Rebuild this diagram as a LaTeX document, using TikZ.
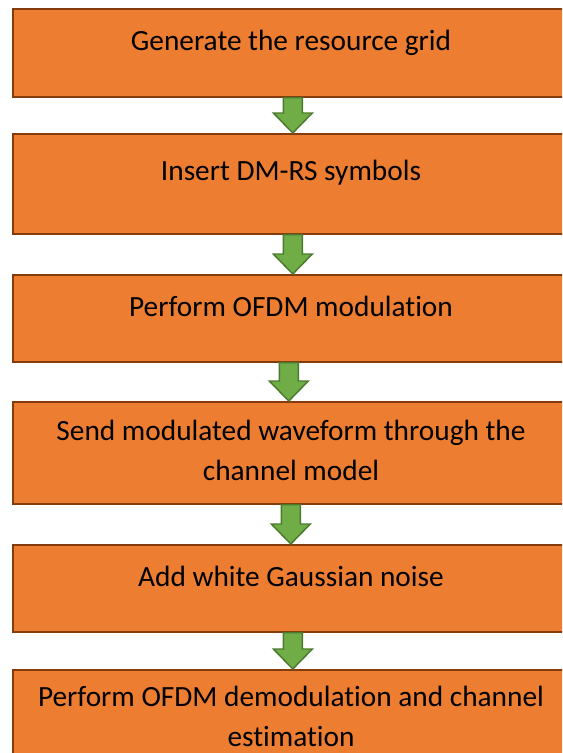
\documentclass[tikz,border=0pt]{standalone}
\usepackage{fontspec}
\setmainfont[Ligatures=NoCommon]{Carlito}
\usetikzlibrary{calc}
\definecolor{boxfill}{HTML}{ED7D31}
\definecolor{boxline}{HTML}{843C0C}
\definecolor{arrfill}{HTML}{70AD47}
\definecolor{arrline}{HTML}{4B7A2E}
\tikzset{
  stepbox/.style={draw=boxline, fill=boxfill, line width=1.2pt, rectangle, inner sep=0pt, anchor=north west, minimum width=558*0.75pt},
  steptext/.style={font=\fontsize{22}{30}\selectfont, text=black, align=center, anchor=base, inner sep=0pt},
  garrow/.style={draw=arrline, fill=arrfill, line width=1.1pt, line join=miter}
}
\newcommand\blockarrow[3]{% from, to, x offset
  \draw[garrow] ($(#1.south)+(#3-9.5,0)$) -- ($(#2.north)+(#3-9.5,-20)$) -- ($(#2.north)+(#3-19.5,-20)$)
    -- ($(#2.north)+(#3,0)$) -- ($(#2.north)+(#3+19.5,-20)$) -- ($(#2.north)+(#3+9.5,-20)$)
    -- ($(#1.south)+(#3+9.5,0)$) -- cycle;}
\begin{document}
\begin{tikzpicture}[x=0.75pt, y=-0.75pt]
\useasboundingbox (0,0) rectangle (562,753);
\clip (0,0) rectangle (562,753);
\node[stepbox, minimum height=88*0.75pt]  (b1) at (12,8) {};
\node[stepbox, minimum height=100*0.75pt] (b2) at (12,133) {};
\node[stepbox, minimum height=87*0.75pt]  (b3) at (12,274) {};
\node[stepbox, minimum height=102*0.75pt] (b4) at (12,401) {};
\node[stepbox, minimum height=87*0.75pt]  (b5) at (12,544) {};
\node[stepbox, minimum height=110*0.75pt] (b6) at (12,669) {};
\blockarrow{b1}{b2}{1}
\blockarrow{b2}{b3}{1}
\blockarrow{b3}{b4}{-3}
\blockarrow{b4}{b5}{-1}
\blockarrow{b5}{b6}{1}
\node[steptext] (t1) at (291,50) {Generate the resource grid};
\node[steptext] (t2) at (291,180) {Insert DM-RS symbols};
\node[steptext] (t3) at (291,316) {Perform OFDM modulation};
\node[steptext] (t4) at (291,480) {Send modulated waveform through the\\channel model};
\node[steptext] (t5) at (291,586) {Add white Gaussian noise};
\node[steptext] (t6) at (291,746) {Perform OFDM demodulation and channel\\estimation};
\end{tikzpicture}
\end{document}
